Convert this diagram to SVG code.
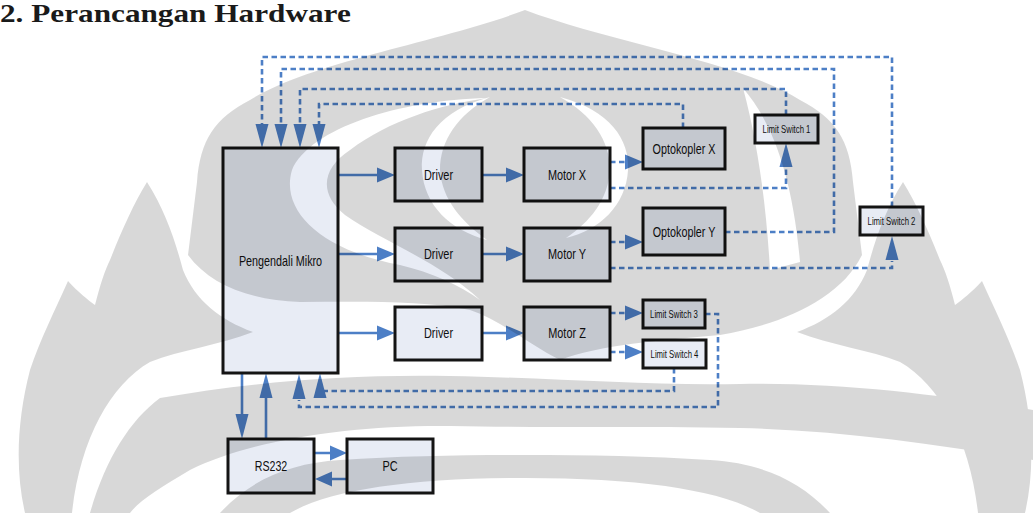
<svg xmlns="http://www.w3.org/2000/svg" width="1033" height="513" viewBox="0 0 1033 513">
  <defs>
    <style>
      .box{fill:#e8ecf5;stroke:#141414;stroke-width:3}
      .lbl{font-family:"Liberation Sans",Arial,sans-serif;fill:#111;text-anchor:middle;font-size:14px}
      .sm{font-size:10.5px}
      .solid{stroke:#4d7fc6;stroke-width:2.6;fill:none}
      .dash{stroke:#4d7fc6;stroke-width:2.6;fill:none;stroke-dasharray:5.5 3.5}
      .head{fill:#4d7fc6}
    </style>
    <!-- emblem watermark shape: white = shaded, black = clear -->
    <mask id="wm" maskUnits="userSpaceOnUse" x="0" y="0" width="1033" height="513">
      <rect width="1033" height="513" fill="#000"/>
      <g fill="#fff">
        <!-- crown -->
        <path d="M188,255 L197,182 C200,140 215,118 250,100 C310,62 440,42 525,10 C610,42 740,62 800,100 C835,118 850,140 853,182 L862,255 C840,300 780,325 720,335 C660,340 600,345 560,360 C530,345 500,320 470,310 C420,300 360,302 300,302 C250,300 210,285 188,255 Z"/>
        <!-- left flames -->
        <path d="M147,182 C165,210 175,240 183,270 C195,300 220,320 253,332 C220,345 180,350 150,362 C110,385 80,440 72,513 L25,513 C15,470 17,420 30,370 C40,340 55,310 68,281 C78,292 88,300 95,305 C100,285 105,270 110,260 C122,230 133,205 147,182 Z"/>
        <!-- right flames -->
        <path d="M903,182 C885,210 875,240 867,270 C855,300 830,320 797,332 C830,345 870,350 900,362 C940,385 970,440 978,513 L1025,513 C1035,470 1033,420 1020,370 C1010,340 995,310 982,281 C972,292 962,300 955,305 C950,285 945,270 940,260 C928,230 917,205 903,182 Z"/>
        <!-- middle band -->
        <path d="M160,398 C250,382 350,374 450,376 C560,378 650,386 740,384 C840,382 940,395 1033,410 L1033,460 C940,445 840,430 740,428 C640,426 560,428 450,426 C350,425 250,440 190,470 C160,488 140,500 130,513 L90,513 C105,460 130,420 160,398 Z"/>
        <!-- lower arch -->
        <path d="M220,513 C250,480 290,463 340,460 C400,456 460,455 525,455 C590,455 650,456 710,460 C760,463 800,480 830,513 L760,513 C720,490 640,478 525,478 C410,478 330,490 290,513 Z"/>
      </g>
      <g fill="#000">
        <path d="M490,97 C440,110 420,140 422,170 C424,205 450,230 487,240 C462,222 442,200 440,170 C440,140 458,115 490,97 Z"/>
        <path d="M560,97 C610,110 630,140 628,170 C626,205 600,230 566,238 C590,222 608,200 610,170 C610,140 592,115 560,97 Z"/>
        <path d="M487,98 C400,100 310,128 292,170 C280,210 320,250 400,265 C430,272 460,285 480,300 C440,262 380,240 345,215 C320,195 320,170 350,150 C390,120 440,105 487,98 Z"/>
        <path d="M743,88 C770,120 792,170 800,262 L770,270 C766,200 757,140 743,88 Z"/>
      </g>
    </mask>
  </defs>

  <rect width="1033" height="513" fill="#fff"/>

  <text id="title" transform="translate(0,22) scale(1.25,1)" font-family="'Liberation Serif','Times New Roman',serif" font-weight="bold" font-size="25" fill="#1a1a1a">2. Perancangan Hardware</text>

  <g id="connectors">
    <!-- controller to drivers -->
    <path class="solid" d="M338,175 H378 M338,254 H378 M338,333 H378"/>
    <polygon class="head" points="377,167.5 395,175 377,182.5"/>
    <polygon class="head" points="377,246.5 395,254 377,261.5"/>
    <polygon class="head" points="377,325.5 395,333 377,340.5"/>
    <!-- drivers to motors -->
    <path class="solid" d="M482,175 H507 M482,254 H507 M482,333 H507"/>
    <polygon class="head" points="506,167.5 524,175 506,182.5"/>
    <polygon class="head" points="506,246.5 524,254 506,261.5"/>
    <polygon class="head" points="506,325.5 524,333 506,340.5"/>
    <!-- controller / RS232 -->
    <path class="solid" d="M242,373 V415 M266,439 V397"/>
    <polygon class="head" points="235.5,414 242,439 248.5,414"/>
    <polygon class="head" points="259.5,398 266,373 272.5,398"/>
    <!-- RS232 / PC -->
    <path class="solid" d="M314,453 H331 M347,479 H331"/>
    <polygon class="head" points="330,445.5 347,453 330,460.5"/>
    <polygon class="head" points="332,471.5 315,479 332,486.5"/>

    <!-- feedback lines into controller top -->
    <path class="dash" d="M683,128 V104 H319 V125"/>
    <path class="dash" d="M786,115 V89 H300 V125"/>
    <path class="dash" d="M725,232 H834 V69 H281 V125"/>
    <path class="dash" d="M892,207 V57 H262 V125"/>
    <polygon class="head" points="312.5,124 319,148 325.5,124"/>
    <polygon class="head" points="293.5,124 300,148 306.5,124"/>
    <polygon class="head" points="274.5,124 281,148 287.5,124"/>
    <polygon class="head" points="255.5,124 262,148 268.5,124"/>

    <!-- motors to sensors -->
    <path class="dash" d="M610,162 H626 M610,242 H626 M610,313 H626 M610,352 H626"/>
    <polygon class="head" points="625,154.5 643,162 625,169.5"/>
    <polygon class="head" points="625,234.5 643,242 625,249.5"/>
    <polygon class="head" points="625,305.5 643,313 625,320.5"/>
    <polygon class="head" points="625,344.5 643,352 625,359.5"/>
    <path class="dash" d="M610,188 H786 V168"/>
    <polygon class="head" points="779.5,167 786,143 792.5,167"/>
    <path class="dash" d="M610,268 H892 V261"/>
    <polygon class="head" points="885.5,260 892,236 898.5,260"/>

    <!-- limit switches 3 and 4 back to controller bottom -->
    <path class="dash" d="M705,314 H718 V407 H299 V400"/>
    <polygon class="head" points="292.5,399 299,374 305.5,399"/>
    <path class="dash" d="M674,368 V391 H322"/>
    <polygon class="head" points="313.5,398 320,373 326.5,398"/>
  </g>

  <g id="mcu">
    <rect class="box" x="223" y="148" width="115" height="225"/>
    <text class="lbl" transform="translate(280.5,266) scale(0.77,1)">Pengendali Mikro</text>
  </g>
  <g id="driver-x">
    <rect class="box" x="395" y="148" width="87" height="53"/>
    <text class="lbl" transform="translate(438.5,180) scale(0.78,1)">Driver</text>
  </g>
  <g id="driver-y">
    <rect class="box" x="395" y="228" width="87" height="53"/>
    <text class="lbl" transform="translate(438.5,259) scale(0.78,1)">Driver</text>
  </g>
  <g id="driver-z">
    <rect class="box" x="395" y="307" width="87" height="53"/>
    <text class="lbl" transform="translate(438.5,338) scale(0.78,1)">Driver</text>
  </g>
  <g id="motor-x">
    <rect class="box" x="524" y="148" width="86" height="53"/>
    <text class="lbl" transform="translate(567,180) scale(0.78,1)">Motor X</text>
  </g>
  <g id="motor-y">
    <rect class="box" x="524" y="228" width="86" height="53"/>
    <text class="lbl" transform="translate(567,259) scale(0.78,1)">Motor Y</text>
  </g>
  <g id="motor-z">
    <rect class="box" x="524" y="307" width="86" height="53"/>
    <text class="lbl" transform="translate(567,338) scale(0.78,1)">Motor Z</text>
  </g>
  <g id="opto-x">
    <rect class="box" x="643" y="128" width="82" height="41"/>
    <text class="lbl" transform="translate(684,153.5) scale(0.77,1)">Optokopler X</text>
  </g>
  <g id="opto-y">
    <rect class="box" x="643" y="208" width="82" height="47"/>
    <text class="lbl" transform="translate(684,236.5) scale(0.77,1)">Optokopler Y</text>
  </g>
  <g id="ls1">
    <rect class="box" x="755" y="115" width="63" height="28"/>
    <text class="lbl sm" transform="translate(786.5,133) scale(0.74,1)">Limit Switch 1</text>
  </g>
  <g id="ls2">
    <rect class="box" x="860" y="207" width="63" height="28"/>
    <text class="lbl sm" transform="translate(891.5,225) scale(0.74,1)">Limit Switch 2</text>
  </g>
  <g id="ls3">
    <rect class="box" x="643" y="300" width="62" height="28"/>
    <text class="lbl sm" transform="translate(674,318) scale(0.74,1)">Limit Switch 3</text>
  </g>
  <g id="ls4">
    <rect class="box" x="643" y="340" width="63" height="28"/>
    <text class="lbl sm" transform="translate(674.5,358) scale(0.74,1)">Limit Switch 4</text>
  </g>
  <g id="rs232">
    <rect class="box" x="228" y="439" width="86" height="54"/>
    <text class="lbl" transform="translate(271,471) scale(0.76,1)">RS232</text>
  </g>
  <g id="pc">
    <rect class="box" x="347" y="439" width="86" height="54"/>
    <text class="lbl" transform="translate(390,471) scale(0.78,1)">PC</text>
  </g>

  <!-- emblem watermark, multiplied over the drawing -->
  <g id="watermark">
    <rect width="1033" height="513" fill="#000" opacity="0.15" mask="url(#wm)"/>
  </g>
</svg>
